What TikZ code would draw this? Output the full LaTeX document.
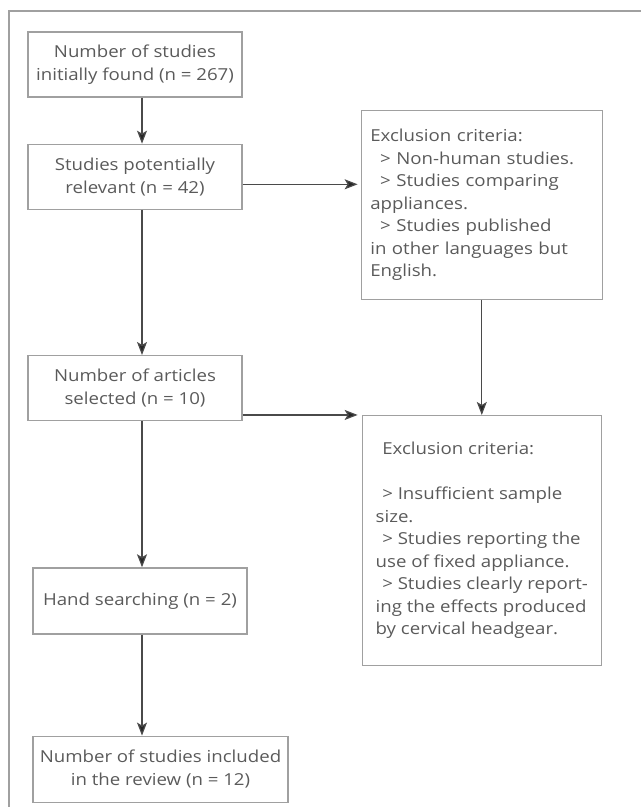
\documentclass[tikz,border=0pt]{standalone}
\usepackage{fontspec}
\setmainfont{Open Sans}[FakeStretch=1.13]
\usetikzlibrary{positioning,arrows.meta}
\definecolor{boxgray}{HTML}{A0A0A0}
\definecolor{textgray}{HTML}{5A5A5A}
\definecolor{linegray}{HTML}{4A4A4A}
\tikzset{
	box/.style={draw=boxgray, line width=1.3pt, text=textgray, inner sep=0pt, minimum width=214pt, minimum height=65pt, align=center, font=\fontsize{16.5}{22.5}\selectfont},
	crit/.style={box, align=left},
	arr/.style={draw=linegray, line width=1.2pt, -{Stealth[length=13pt,width=10pt,inset=3pt,fill=black!85]}},
}
\begin{document}
\begin{tikzpicture}[x=1pt, y=1pt]
	\useasboundingbox (0,0) rectangle (641,-807);
	\draw[boxgray, line width=1.3pt] (641,-11) -- (9,-11) -- (9,-807);

	\node [box] (a) at (135,-64.5) {Number of studies\\initially found (n = 267)};
	\node [box, below=46pt of a] (b) {Studies potentially\\relevant (n = 42)};
	\node [box, below=145pt of b] (c) {Number of articles\\selected (n = 10)};
	\node [box, below=146pt of c, xshift=5pt, minimum height=66pt] (d) {Hand searching (n = 2)};
	\node [box, below=101pt of d.south west, anchor=north west, minimum width=255pt, minimum height=66pt] (e) {Number of studies included\\in the review (n = 12)};
	\node [crit, right=118pt of b.east, anchor=west, yshift=-28pt, inner xsep=9pt, text width=223pt, minimum height=189pt] (f)
		{Exclusion criteria:\\
		\hspace*{0.6em}> Non-human studies.\\
		\hspace*{0.6em}> Studies comparing\\
		appliances.\\
		\hspace*{0.6em}> Studies published\\
		in other languages but\\
		English.};
	\node [crit, below=115pt of f.south, anchor=north, minimum width=239pt, minimum height=250pt] (g)
		{\hspace*{0.4em}Exclusion criteria:\\[22.5pt]
		\hspace*{0.4em}> Insufficient sample\\
		size.\\
		\hspace*{0.4em}> Studies reporting the\\
		use of fixed appliance.\\
		\hspace*{0.4em}> Studies clearly report-\\
		ing the effects produced\\
		by cervical headgear.};

	\coordinate (spine) at (142,0);
	\draw[arr] (a.south -| spine) -- (b.north -| spine);
	\draw[arr] (b.south -| spine) -- (c.north -| spine);
	\draw[arr] (c.south -| spine) -- (d.north -| spine);
	\draw[arr] (d.south -| spine) -- (e.north -| spine);
	\draw[arr, shorten >=3pt] ([yshift=-7.5pt]b.east) -- ([yshift=-7.5pt]b.east -| f.west);
	\draw[arr, shorten >=4pt] (c.east |- g.north) -- (g.north west);
	\draw[arr] (f.south) -- (f.south |- g.north);

\end{tikzpicture}
\end{document}
